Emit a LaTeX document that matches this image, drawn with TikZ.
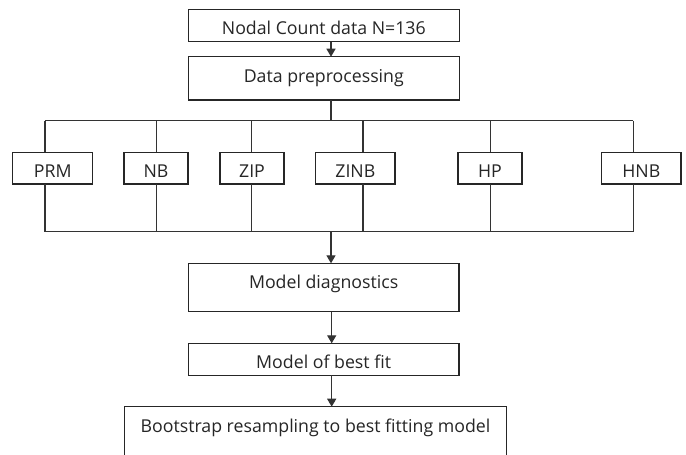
\documentclass[tikz,border=0pt]{standalone}
\usepackage{fontspec}
\setmainfont{Open Sans}
\usetikzlibrary{arrows.meta}

\tikzset{
  box/.style={draw=black!85, line width=0.9pt, rectangle, inner sep=0pt, outer sep=0pt,
    anchor=north west, align=center, font=\fontsize{13.3}{16}\selectfont, text=black!85},
  wire/.style={draw=black!80, line width=0.9pt},
  flow/.style={wire, -{Triangle[length=6pt,width=6.8pt]}}
}

\begin{document}
\begin{tikzpicture}[x=0.75pt, y=-0.75pt]
  \clip (0,0) rectangle (686,454);
  \fill[white] (0,0) rectangle (686,454);

  % input and preprocessing
  \node[box, minimum width=203.25pt, text height=18.75pt, text depth=5.55pt]
    (data) at (188.3,9.3) {Nodal Count data N=136};
  \node[box, minimum width=203.25pt, text height=19.5pt, text depth=12.98pt]
    (prep) at (188.3,56.7) {Data preprocessing};

  % candidate count models
  \node[box, minimum width=60pt,   text height=18.75pt, text depth=5.03pt] (prm)  at (12.7,152.3)  {PRM};
  \node[box, minimum width=48pt,   text height=18.75pt, text depth=5.03pt] (nb)   at (124,152.3)   {NB};
  \node[box, minimum width=48pt,   text height=18.75pt, text depth=5.03pt] (zip)  at (220,152.3)   {ZIP};
  \node[box, minimum width=59.5pt, text height=18.75pt, text depth=5.03pt] (zinb) at (315.7,152.3) {ZINB};
  \node[box, minimum width=48pt,   text height=18.75pt, text depth=5.03pt] (hp)   at (458,152.3)   {HP};
  \node[box, minimum width=59.5pt, text height=18.75pt, text depth=5.03pt] (hnb)  at (601.7,152.3) {HNB};

  % evaluation steps
  \node[box, minimum width=203pt, text height=18.75pt, text depth=17.55pt]
    (diag) at (188.3,263.3) {Model diagnostics};
  \node[box, minimum width=203pt, text height=18.75pt, text depth=5.25pt]
    (best) at (188.3,343.3) {Model of best fit};
  \node[box, minimum width=286.8pt, text height=19.2pt, text depth=30pt]
    (boot) at (124.3,406.7) {Bootstrap resampling to best fitting model};

  % bus lines above and below the model row
  \coordinate (split) at (331,120.7);
  \coordinate (merge) at (331,231.7);
  \coordinate (xprm)  at (45,0);
  \coordinate (xnb)   at (156.7,0);
  \coordinate (xzip)  at (251.7,0);
  \coordinate (xzinb) at (363,0);
  \coordinate (xhp)   at (490.7,0);
  \coordinate (xhnb)  at (633.3,0);
  \coordinate (xflow) at (331.7,0);

  \draw[flow] (data.south -| split) -- (prep.north -| split);
  \draw[wire] (prep.south -| split) -- (split);
  \draw[wire] (xprm |- split) -- (xhnb |- split);
  \draw[wire] (xprm |- merge) -- (xhnb |- merge);

  \foreach \m/\x in {prm/xprm, nb/xnb, zip/xzip, zinb/xzinb, hp/xhp, hnb/xhnb} {
    \draw[wire] (\x |- split) -- (\m.north -| \x);
    \draw[wire] (\m.south -| \x) -- (\x |- merge);
  }

  \draw[flow] (merge) -- (diag.north -| merge);
  \draw[flow] (diag.south -| xflow) -- (best.north -| xflow);
  \draw[flow] (best.south -| xflow) -- (boot.north -| xflow);
\end{tikzpicture}
\end{document}
